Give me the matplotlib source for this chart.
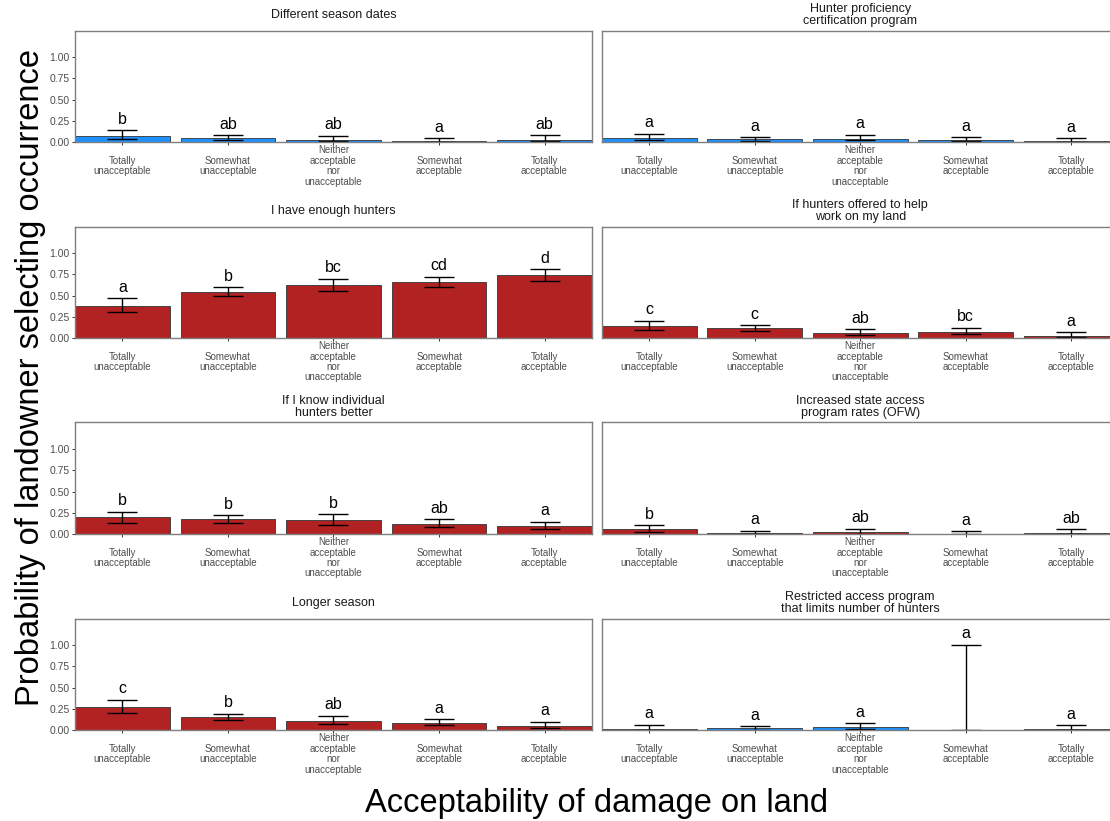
import matplotlib
matplotlib.use('Agg')
import matplotlib.pyplot as plt

plt.rcParams['font.family'] = ['Liberation Sans', 'DejaVu Sans']

# Categories on the x axis (same for every panel)
categories = ['Totally\nunacceptable', 'Somewhat\nunacceptable',
              'Neither\nacceptable\nnor\nunacceptable',
              'Somewhat\nacceptable', 'Totally\nacceptable']

# Panel titles, left to right, top to bottom
titles = ['Different season dates',
          'Hunter proficiency\ncertification program',
          'I have enough hunters',
          'If hunters offered to help\nwork on my land',
          'If I know individual\nhunters better',
          'Increased state access\nprogram rates (OFW)',
          'Longer season',
          'Restricted access program\nthat limits number of hunters']

blue = '#1E90FF'
red = '#B22222'
panel_colors = [blue, blue, red, red, red, red, red, blue]

# Estimated probabilities and confidence limits per panel
means = [
    [0.074, 0.050, 0.031, 0.016, 0.031],
    [0.047, 0.035, 0.043, 0.027, 0.012],
    [0.381, 0.542, 0.627, 0.658, 0.746],
    [0.138, 0.115, 0.054, 0.077, 0.027],
    [0.196, 0.181, 0.165, 0.115, 0.092],
    [0.054, 0.008, 0.019, 0.004, 0.008],
    [0.274, 0.154, 0.104, 0.081, 0.046],
    [0.019, 0.023, 0.035, 0.000, 0.012],
]
lower = [
    [0.043, 0.027, 0.019, 0.004, 0.019],
    [0.023, 0.019, 0.023, 0.012, 0.004],
    [0.308, 0.492, 0.558, 0.596, 0.673],
    [0.092, 0.088, 0.031, 0.050, 0.008],
    [0.135, 0.135, 0.112, 0.085, 0.054],
    [0.027, 0.000, 0.004, 0.000, 0.000],
    [0.208, 0.124, 0.069, 0.058, 0.023],
    [0.004, 0.008, 0.012, 0.000, 0.004],
]
upper = [
    [0.140, 0.081, 0.078, 0.050, 0.081],
    [0.100, 0.062, 0.089, 0.062, 0.050],
    [0.465, 0.596, 0.696, 0.719, 0.810],
    [0.204, 0.154, 0.104, 0.123, 0.069],
    [0.265, 0.219, 0.231, 0.173, 0.146],
    [0.108, 0.042, 0.065, 0.031, 0.058],
    [0.359, 0.197, 0.170, 0.127, 0.100],
    [0.066, 0.046, 0.081, 1.005, 0.058],
]
letters = [
    ['b', 'ab', 'ab', 'a', 'ab'],
    ['a', 'a', 'a', 'a', 'a'],
    ['a', 'b', 'bc', 'cd', 'd'],
    ['c', 'c', 'ab', 'bc', 'a'],
    ['b', 'b', 'b', 'ab', 'a'],
    ['b', 'a', 'ab', 'a', 'ab'],
    ['c', 'b', 'ab', 'a', 'a'],
    ['a', 'a', 'a', 'a', 'a'],
]

W, H = 1110, 821
fig = plt.figure(figsize=(W / 100, H / 100), dpi=100)

row_tops = [30.7, 226.5, 422.5, 618.7]
panel_h = 111.6
col_lefts = [75, 601.7]
panel_w = 517
x = [1, 2, 3, 4, 5]

for i in range(8):
    r, c = divmod(i, 2)
    ax = fig.add_axes([col_lefts[c] / W, 1 - (row_tops[r] + panel_h) / H,
                       panel_w / W, panel_h / H])
    ax.bar(x, means[i], width=0.9, color=panel_colors[i],
           edgecolor='#333333', linewidth=0.6)
    yerr = [[m - l for m, l in zip(means[i], lower[i])],
            [u - m for m, u in zip(means[i], upper[i])]]
    ax.errorbar(x, means[i], yerr=yerr, fmt='none', ecolor='black',
                elinewidth=1.0, capsize=11, capthick=1.0)
    for xi, u, lab in zip(x, upper[i], letters[i]):
        ax.text(xi, u + 0.075, lab, ha='center', va='baseline', fontsize=11.5)

    ax.set_xlim(0.55, 5.45)
    ax.set_ylim(0, 1.31)
    ax.set_xticks(x)
    ax.set_xticklabels(categories, fontsize=7, color='#4D4D4D',
                       linespacing=1.05, va='center')
    ax.tick_params(axis='x', length=2.5, width=0.7, color='#333333', pad=14.5)
    if c == 0:
        ax.set_yticks([0, 0.25, 0.5, 0.75, 1.0])
        ax.set_yticklabels(['0.00', '0.25', '0.50', '0.75', '1.00'],
                           fontsize=7.5, color='#4D4D4D')
        ax.tick_params(axis='y', length=2.5, width=0.7, color='#333333', pad=1.5)
    else:
        ax.set_yticks([])
    for s in ax.spines.values():
        s.set_color('#7F7F7F')
        s.set_linewidth(1.0)

    ax.text(0.5, 1 + 15.5 / panel_h, titles[i], transform=ax.transAxes,
            ha='center', va='center', fontsize=9, linespacing=1.0,
            color='#1A1A1A')

fig.text(31 / W, 1 - 377.5 / H, 'Probability of landowner selecting occurrence',
         rotation=90, ha='center', va='center', fontsize=23.5)
fig.text(596.5 / W, 1 - 803 / H, 'Acceptability of damage on land',
         ha='center', va='center', fontsize=23.5)

fig.savefig('out.png', dpi=100)
